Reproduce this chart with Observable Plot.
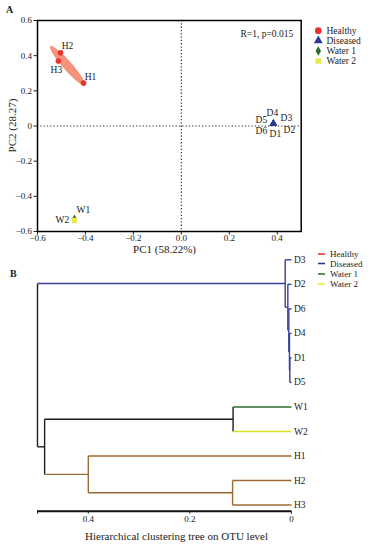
<!DOCTYPE html>
<html><head><meta charset="utf-8">
<script src="https://cdn.jsdelivr.net/npm/d3@7"></script>
<script src="https://cdn.jsdelivr.net/npm/@observablehq/plot@0.6"></script>
<style>
body{margin:0;background:#fff;font-family:"Liberation Serif",serif;}
#wrap{position:relative;width:368px;height:550px;overflow:hidden;background:#fff;}
.lbl{position:absolute;white-space:nowrap;color:#222;font-family:"Liberation Serif",serif;line-height:1;}
</style></head><body><div id="wrap"></div>
<script>
// ---------- DATA ----------
const groups = ["Healthy", "Diseased", "Water 1", "Water 2"];
const groupColors = ["#e8322b", "#2d3a92", "#2e6e2e", "#e9e84e"];
const groupSymbols = ["circle", "triangle", "diamond", "square"];
const treeColors = ["#9c6b34", "#3b3e97", "#2f6a2f", "#d8e41c"];
const legendLineColors = ["#e8322b", "#2d3590", "#2e7a32", "#dfe84a"];

const samples = ["H1", "H2", "H3", "D1", "D2", "D3", "D4", "D5", "D6", "W1", "W2"];
const sampleGroup = ["Healthy", "Healthy", "Healthy", "Diseased", "Diseased", "Diseased", "Diseased", "Diseased", "Diseased", "Water 1", "Water 2"];
const pc1 = [-0.408, -0.504, -0.513, 0.384, 0.384, 0.384, 0.384, 0.384, 0.384, -0.446, -0.446];
const pc2 = [0.244, 0.417, 0.369, 0.014, 0.014, 0.014, 0.014, 0.014, 0.014, -0.527, -0.537];
const pc1Ticks = [-0.6, -0.4, -0.2, 0, 0.2, 0.4];
const pc2Ticks = [-0.6, -0.4, -0.2, 0, 0.2, 0.4, 0.6];
const statText = "R=1, p=0.015";

// hierarchical clustering tree (merge heights)
const tree = {h: 0.5, children: [
  {h: 0.0124, children: [
    {name: "D3"},
    {h: 0.0072, children: [
      {name: "D2"},
      {h: 0.0053, children: [
        {name: "D6"},
        {h: 0.0040, children: [
          {name: "D4"},
          {h: 0.0033, children: [{name: "D1"}, {name: "D5"}]}
        ]}
      ]}
    ]}
  ]},
  {h: 0.486, children: [
    {h: 0.115, children: [{name: "W1"}, {name: "W2"}]},
    {h: 0.400, children: [
      {name: "H1"},
      {h: 0.116, children: [{name: "H2"}, {name: "H3"}]}
    ]}
  ]}
]};
const treeTicks = [0.5, 0.4, 0.2, 0];
const treeTickLabels = ["", "0.4", "0.2", "0"];

// ---------- BUILD ----------
const wrap = document.getElementById("wrap");
const FONT = "Liberation Serif, Times New Roman, serif";
function place(el, left, top) { el.style.position = "absolute"; el.style.left = left + "px"; el.style.top = top + "px"; wrap.appendChild(el); return el; }
function label(text, left, top, size, extra) {
  const d = document.createElement("div"); d.className = "lbl"; d.textContent = text;
  d.style.fontSize = size + "px"; if (extra) Object.assign(d.style, extra);
  return place(d, left, top);
}

const pts = samples.map((s, i) => ({name: s, group: sampleGroup[i], pc1: pc1[i], pc2: pc2[i]}));

// ellipse around Healthy from covariance
const Hs = pts.filter(d => d.group === "Healthy");
const mx = d3.mean(Hs, d => d.pc1), my = d3.mean(Hs, d => d.pc2);
let sxx = 0, syy = 0, sxy = 0;
Hs.forEach(d => { const a = d.pc1 - mx, b = d.pc2 - my; sxx += a*a; syy += b*b; sxy += a*b; });
const nn = Hs.length - 1; sxx /= nn; syy /= nn; sxy /= nn;
const tr = sxx + syy, det = sxx*syy - sxy*sxy, disc = Math.sqrt(tr*tr/4 - det);
const l1 = tr/2 + disc, l2 = Math.max(tr/2 - disc, 0);
const ang = Math.atan2(l1 - sxx, sxy);
const v1 = [Math.cos(ang), Math.sin(ang)], v2 = [-Math.sin(ang), Math.cos(ang)];
const K = 1.25;
const ell = d3.range(72).map(i => {
  const t = i / 72 * 2 * Math.PI;
  const a = K*Math.sqrt(l1)*Math.cos(t), b = K*Math.sqrt(l2)*Math.sin(t);
  return {x: mx + a*v1[0] + b*v2[0], y: my + a*v1[1] + b*v2[1]};
});

// label offsets (styling)
const off = {H1: [7, -6], H2: [7, -7], H3: [-2, 9], D1: [2, 10], D2: [16, 6], D3: [13, -5.5], D4: [-1, -11], D5: [-12, -3.5], D6: [-12, 7], W1: [9, -8.5], W2: [-12, -0.5]};

const dotMarks = groups.map((g, gi) => Plot.dot(pts.filter(d => d.group === g), {
  x: "pc1", y: "pc2", symbol: groupSymbols[gi], fill: groupColors[gi], stroke: "none",
  r: [2.8, 2.8, 2.6, 3.0][gi]
}));
const textMarks = pts.map(d => Plot.text([d], {
  x: "pc1", y: "pc2", text: "name", dx: off[d.name][0], dy: off[d.name][1], fontSize: 9.5, fill: "#222"
}));

const plotA = Plot.plot({
  width: 368, height: 256,
  marginLeft: 37, marginRight: 67.3, marginTop: 20, marginBottom: 25,
  style: {fontFamily: FONT, fontSize: "9px", color: "#222", background: "transparent"},
  x: {domain: [-0.6, 0.5], ticks: pc1Ticks, label: null},
  y: {domain: [-0.6, 0.6], ticks: pc2Ticks, label: null},
  marks: [
    Plot.ruleX([0], {stroke: "#333", strokeWidth: 1.2, strokeDasharray: "1.3,2"}),
    Plot.ruleY([0], {stroke: "#333", strokeWidth: 1.2, strokeDasharray: "1.3,2"}),
    Plot.line(ell, {x: "x", y: "y", curve: "linear-closed", fill: "#f2876a", fillOpacity: 0.9, stroke: "none"}),
    ...dotMarks,
    ...textMarks,
    Plot.text([statText], {frameAnchor: "top-right", textAnchor: "end", dx: -8, dy: 10, fontSize: 9.5, fill: "#222"}),
    Plot.axisX({ticks: pc1Ticks, tickSize: 3.5, tickPadding: 0, tickFormat: d3.format(".1f"), fontSize: 9, label: null}),
    Plot.axisY({ticks: pc2Ticks, tickSize: 3.5, tickPadding: 2, tickFormat: d => d === 0 ? "0" : d3.format(".1f")(d), fontSize: 9, label: null}),
    Plot.frame({stroke: "#000", strokeWidth: 1.5})
  ]
});
place(plotA, 0, 0);

// ---------- tree layout ----------
const groupOf = name => sampleGroup[samples.indexOf(name)];
let leafIdx = 0; const leaves = []; const segs = [];
function layout(node) {
  if (!node.children) { node.y = leafIdx++; node.h = 0; node.groups = new Set([groupOf(node.name)]); leaves.push(node); return; }
  node.children.forEach(layout);
  node.y = (node.children[0].y + node.children[node.children.length - 1].y) / 2;
  node.groups = new Set(node.children.flatMap(c => [...c.groups]));
}
layout(tree);
const colorOf = n => n.groups.size === 1 ? treeColors[groups.indexOf([...n.groups][0])] : "#1c1c1c";
function collect(node) {
  if (!node.children) return;
  const f = node.children[0], l = node.children[node.children.length - 1];
  segs.push({x1: node.h, x2: node.h, y1: f.y, y2: l.y, color: colorOf(node)});
  node.children.forEach(c => { segs.push({x1: node.h, x2: c.h, y1: c.y, y2: c.y, color: colorOf(c)}); collect(c); });
}
collect(tree);
const yMax = leaves.length - 1 + 0.25;

const plotB = Plot.plot({
  width: 368, height: 300,
  marginLeft: 37, marginRight: 77, marginTop: 9.3, marginBottom: 39.3,
  style: {fontFamily: FONT, fontSize: "9px", color: "#222", background: "transparent"},
  x: {domain: [0.5, 0], label: null},
  y: {domain: [0, yMax], reverse: true, axis: null},
  color: {type: "identity"},
  marks: [
    Plot.link(segs, {x1: "x1", x2: "x2", y1: "y1", y2: "y2", stroke: "color", strokeWidth: 1.4}),
    Plot.text(leaves, {x: "h", y: "y", text: "name", textAnchor: "start", dx: 2.5, fontSize: 9.5, fill: "#222"}),
    Plot.ruleY([yMax], {stroke: "#111", strokeWidth: 2}),
    Plot.axisX({ticks: treeTicks, tickSize: 3, tickPadding: 1, tickFormat: d => treeTickLabels[treeTicks.indexOf(d)], fontSize: 9, label: null})
  ]
});
place(plotB, 0, 250);

// ---------- text labels ----------
label("A", 6, 5, 10, {fontWeight: "bold"});
label("B", 10, 269, 10, {fontWeight: "bold"});
label("PC1 (58.22%)", 0, 244, 11, {width: "329px", textAlign: "center"});
label("PC2 (28.27)", -48, 120, 11, {width: "120px", textAlign: "center", transform: "rotate(-90deg)", transformOrigin: "center center"});
label("Hierarchical clustering tree on OTU level", 0, 531, 11, {width: "353px", textAlign: "center"});

// ---------- legends ----------
function legendSvg(left, top, w, h) {
  const s = d3.create("svg").attr("width", w).attr("height", h).style("font-family", FONT);
  place(s.node(), left, top); return s;
}
const legA = legendSvg(310, 22, 58, 46);
const legAY = [8.7, 18.7, 29, 39];
groups.forEach((g, i) => {
  const sym = [d3.symbolCircle, d3.symbolTriangle, d3.symbolDiamond, d3.symbolSquare][i];
  const size = [36, 34, 26, 30][i];
  legA.append("path").attr("d", d3.symbol(sym, size)()).attr("transform", `translate(8.3,${legAY[i]})`).attr("fill", groupColors[i]);
  legA.append("text").attr("x", 16.5).attr("y", legAY[i]).attr("dy", "0.35em").attr("font-size", 9.5).attr("fill", "#222").text(g);
});
const legB = legendSvg(314, 247, 54, 44);
const legBY = [7, 16.5, 27, 37];
groups.forEach((g, i) => {
  legB.append("line").attr("x1", 4).attr("x2", 11).attr("y1", legBY[i]).attr("y2", legBY[i]).attr("stroke", legendLineColors[i]).attr("stroke-width", 1.6);
  legB.append("text").attr("x", 16).attr("y", legBY[i]).attr("dy", "0.35em").attr("font-size", 9).attr("fill", "#222").text(g);
});
</script></body></html>
